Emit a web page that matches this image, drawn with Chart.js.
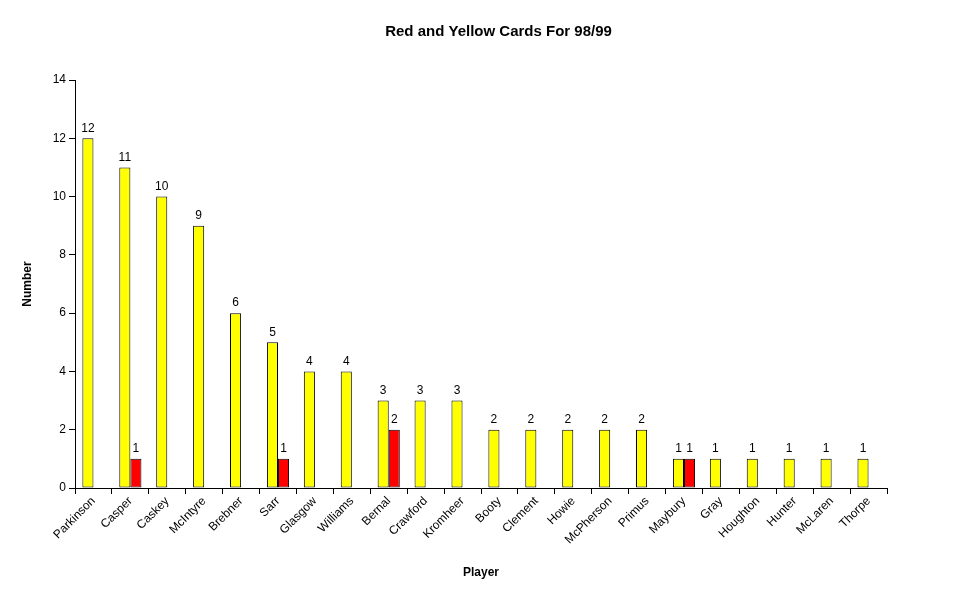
<!DOCTYPE html>
<html>
<head>
<meta charset="utf-8">
<script src="https://cdn.jsdelivr.net/npm/chart.js@4/dist/chart.umd.min.js"></script>
<style>
  html, body { margin: 0; padding: 0; background: #fff; }
  #wrap { width: 977px; height: 600px; }
</style>
</head>
<body>
<div id="wrap"><canvas id="cardsChart"></canvas></div>
<script>
const players = ['Parkinson', 'Casper', 'Caskey', 'McIntyre', 'Brebner', 'Sarr', 'Glasgow', 'Williams',
    'Bernal', 'Crawford', 'Kromheer', 'Booty', 'Clement', 'Howie', 'McPherson', 'Primus',
    'Maybury', 'Gray', 'Houghton', 'Hunter', 'McLaren', 'Thorpe'];
const yellowCards = [12, 11, 10, 9, 6, 5, 4, 4, 3, 3, 3, 2, 2, 2, 2, 2, 1, 1, 1, 1, 1, 1];
const redCards = [null, 1, null, null, null, 1, null, null, 2, null, null, null, null, null, null, null,
    1, null, null, null, null, null];
const yTicks = [0, 2, 4, 6, 8, 10, 12, 14];

const FONT = 'Liberation Sans, Arial, sans-serif';

// scrive il valore sopra ogni barra
const valueLabels = {
    id: 'valueLabels',
    afterDatasetsDraw(chart) {
        const ctx = chart.ctx;
        ctx.save();
        ctx.font = '12px ' + FONT;
        ctx.fillStyle = '#000';
        ctx.textAlign = 'center';
        ctx.textBaseline = 'bottom';
        chart.data.datasets.forEach(function(ds, i) {
            chart.getDatasetMeta(i).data.forEach(function(bar, j) {
                const v = ds.data[j];
                if (v === null || v === undefined) return;
                ctx.fillText(String(v), bar.x, bar.y - 4);
            });
        });
        ctx.restore();
    }
};

new Chart(document.getElementById('cardsChart').getContext('2d'), {
    type: 'bar',
    data: {
        labels: players,
        datasets: [
            {
                label: 'Yellow',
                data: yellowCards,
                backgroundColor: '#ffff00',
                borderColor: '#000',
                borderWidth: 1,
                borderSkipped: false
            },
            {
                label: 'Red',
                data: redCards,
                backgroundColor: '#ff0000',
                borderColor: '#000',
                borderWidth: 1,
                borderSkipped: false
            }
        ]
    },
    options: {
        responsive: true,
        maintainAspectRatio: false,
        animation: false,
        devicePixelRatio: 1,
        layout: { padding: { top: 0, left: 20, right: 0, bottom: 0 } },
        datasets: {
            bar: { categoryPercentage: 0.6, barPercentage: 1.0 }
        },
        scales: {
            x: {
                grid: {
                    offset: true,
                    drawOnChartArea: false,
                    color: '#000',
                    tickLength: 6
                },
                border: { color: '#000', width: 1 },
                ticks: {
                    color: '#000',
                    font: { family: FONT, size: 12 },
                    maxRotation: 45,
                    minRotation: 45,
                    autoSkip: false,
                    padding: 0
                },
                title: {
                    display: true,
                    text: 'Player',
                    color: '#000',
                    font: { family: FONT, size: 12, weight: 'bold' },
                    padding: { top: 4, bottom: 20 }
                },
                afterFit(scale) { scale.height = 112; }
            },
            y: {
                min: 0,
                max: 14,
                afterBuildTicks(scale) { scale.ticks = yTicks.map(v => ({ value: v })); },
                grid: {
                    drawOnChartArea: false,
                    color: '#000',
                    tickLength: 6
                },
                border: { color: '#000', width: 1 },
                ticks: {
                    color: '#000',
                    font: { family: FONT, size: 12 },
                    padding: 3
                },
                title: {
                    display: true,
                    text: 'Number',
                    color: '#000',
                    font: { family: FONT, size: 12, weight: 'bold' },
                    padding: { top: 0, bottom: 0 }
                },
                afterFit(scale) { scale.width = 55; }
            },
            // asse vuoto a destra solo per lasciare spazio
            spacer: {
                type: 'linear',
                position: 'right',
                display: true,
                grid: { display: false },
                border: { display: false },
                ticks: { display: false },
                afterFit(scale) { scale.width = 90; }
            }
        },
        plugins: {
            legend: { display: false },
            tooltip: { enabled: false },
            title: {
                display: true,
                text: 'Red and Yellow Cards For 98/99',
                color: '#000',
                font: { family: FONT, size: 15, weight: 'bold' },
                padding: { top: 23, bottom: 39 }
            }
        }
    },
    plugins: [valueLabels]
});
</script>
</body>
</html>
